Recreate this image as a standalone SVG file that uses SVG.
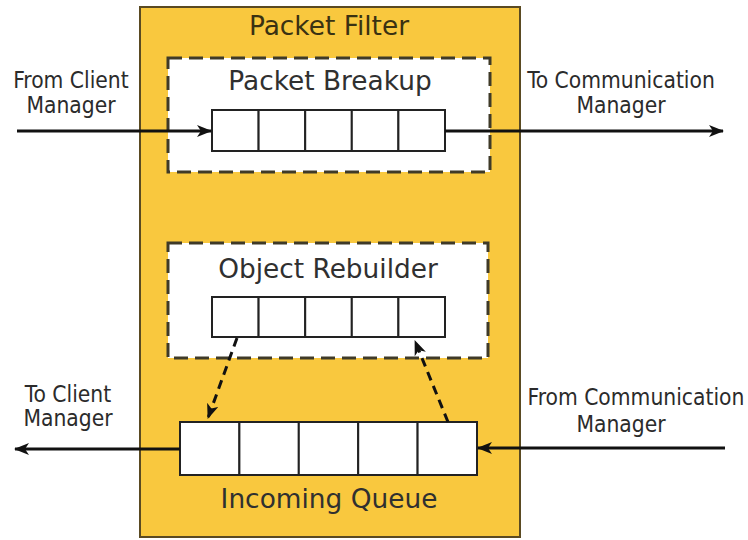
<svg xmlns="http://www.w3.org/2000/svg" width="748" height="540" viewBox="0 0 748 540">
  <style>
    .txt { text-anchor: middle; }
    .lbl { font-family: "DejaVu Sans Condensed", "DejaVu Sans", sans-serif; font-size: 22.6px; fill: #2b2b2b; }
    .title { font-family: "DejaVu Sans", sans-serif; font-size: 26.4px; fill: #3a3212; }
    .sub { font-family: "DejaVu Sans", sans-serif; font-size: 26.4px; fill: #303030; }
    .panel { fill: #fff; stroke: #3f3a28; stroke-width: 3; stroke-dasharray: 14 7; }
    .cell { fill: #fff; stroke: #222; stroke-width: 2; }
    .flow { fill: none; stroke: #111; stroke-width: 3; }
    .dflow { fill: none; stroke: #111; stroke-width: 3; stroke-dasharray: 9 6; }
  </style>
  <defs>
    <marker id="head" viewBox="0 0 15 12" refX="14" refY="6" markerWidth="15" markerHeight="12" markerUnits="userSpaceOnUse" orient="auto">
      <path d="M0,0 L15,6 L0,12 L4,6 Z" fill="#111"/>
    </marker>
  </defs>
  <rect x="0" y="0" width="748" height="540" fill="#fff"/>

  <!-- Packet Filter container -->
  <g id="packet-filter">
    <rect x="140" y="7" width="380" height="530" fill="#F9C83E" stroke="#5a4a22" stroke-width="2"/>
    <text class="txt title" x="329" y="35">Packet Filter</text>
  </g>

  <!-- Packet Breakup -->
  <g id="packet-breakup">
    <rect class="panel" x="168" y="58" width="322" height="114"/>
    <text class="txt sub" x="330" y="90">Packet Breakup</text>
    <rect class="cell" x="212" y="110" width="46.6" height="41"/>
    <rect class="cell" x="258.6" y="110" width="46.6" height="41"/>
    <rect class="cell" x="305.2" y="110" width="46.6" height="41"/>
    <rect class="cell" x="351.8" y="110" width="46.6" height="41"/>
    <rect class="cell" x="398.4" y="110" width="46.6" height="41"/>
  </g>

  <!-- Object Rebuilder -->
  <g id="object-rebuilder">
    <rect class="panel" x="168" y="243" width="320" height="115"/>
    <text class="txt sub" x="328" y="278">Object Rebuilder</text>
    <rect class="cell" x="212" y="297" width="46.6" height="40"/>
    <rect class="cell" x="258.6" y="297" width="46.6" height="40"/>
    <rect class="cell" x="305.2" y="297" width="46.6" height="40"/>
    <rect class="cell" x="351.8" y="297" width="46.6" height="40"/>
    <rect class="cell" x="398.4" y="297" width="46.6" height="40"/>
  </g>

  <!-- Incoming Queue -->
  <g id="incoming-queue">
    <rect class="cell" x="180" y="422" width="59.4" height="53"/>
    <rect class="cell" x="239.4" y="422" width="59.4" height="53"/>
    <rect class="cell" x="298.8" y="422" width="59.4" height="53"/>
    <rect class="cell" x="358.2" y="422" width="59.4" height="53"/>
    <rect class="cell" x="417.6" y="422" width="59.4" height="53"/>
    <text class="txt sub" x="329" y="508">Incoming Queue</text>
  </g>

  <!-- External endpoints -->
  <g id="from-client-manager">
    <text class="txt lbl" x="71" y="88">From Client</text>
    <text class="txt lbl" x="71" y="113">Manager</text>
  </g>
  <g id="to-communication-manager">
    <text class="txt lbl" x="621" y="88">To Communication</text>
    <text class="txt lbl" x="621" y="113">Manager</text>
  </g>
  <g id="to-client-manager">
    <text class="txt lbl" x="68" y="402">To Client</text>
    <text class="txt lbl" x="68" y="426">Manager</text>
  </g>
  <g id="from-communication-manager">
    <text class="txt lbl" x="636" y="405">From Communication</text>
    <text class="txt lbl" x="621" y="432">Manager</text>
  </g>

  <!-- Connectors -->
  <g id="connectors">
    <line class="flow" x1="17" y1="131" x2="211" y2="131" marker-end="url(#head)"/>
    <line class="flow" x1="445" y1="131" x2="723" y2="131" marker-end="url(#head)"/>
    <line class="flow" x1="180" y1="449" x2="15" y2="449" marker-end="url(#head)"/>
    <line class="flow" x1="725" y1="448" x2="478" y2="448" marker-end="url(#head)"/>
    <line class="dflow" x1="237" y1="338" x2="208" y2="418" marker-end="url(#head)"/>
    <line class="dflow" x1="448" y1="422" x2="415" y2="341" marker-end="url(#head)"/>
  </g>
</svg>
